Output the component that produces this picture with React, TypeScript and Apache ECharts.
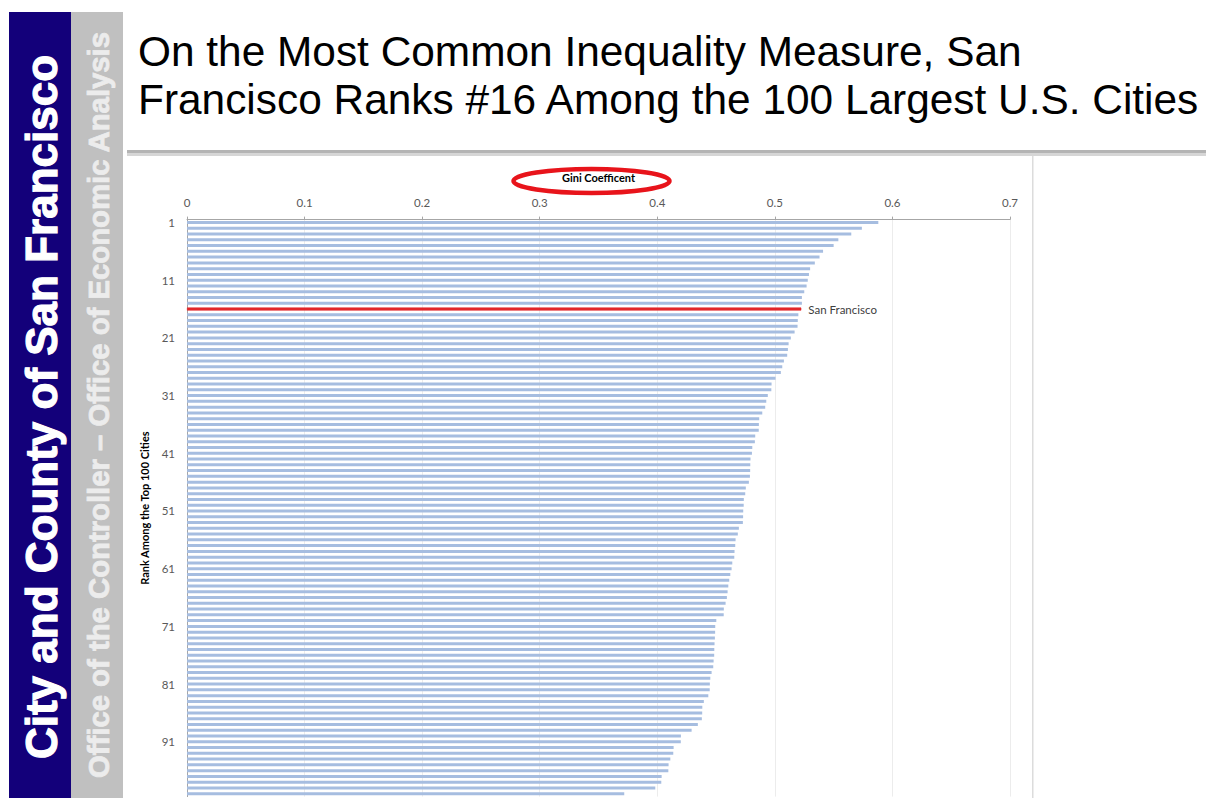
import React, { useEffect, useRef } from "react";
import * as echarts from "echarts";

const ranks: string[] = Array.from({ length: 100 }, (_, i) => String(i + 1));

const giniValues: number[] = [
  0.588, 0.574, 0.565, 0.554, 0.55, 0.541, 0.538, 0.534, 0.53, 0.529,
  0.528, 0.527, 0.525, 0.523, 0.523, 0.5225, 0.52, 0.5195, 0.5193, 0.5168,
  0.5136, 0.5117, 0.5111, 0.5105, 0.5077, 0.5063, 0.5051, 0.5006, 0.4972, 0.497,
  0.494, 0.4927, 0.4918, 0.4893, 0.4867, 0.4864, 0.4863, 0.4833, 0.483, 0.4808,
  0.4805, 0.4793, 0.4791, 0.479, 0.4788, 0.4779, 0.4753, 0.4748, 0.4736, 0.4735,
  0.4731, 0.473, 0.4728, 0.4694, 0.4685, 0.4666, 0.4663, 0.4657, 0.4655, 0.4638,
  0.4632, 0.4621, 0.4612, 0.4604, 0.4598, 0.4592, 0.4581, 0.4566, 0.4565, 0.4502,
  0.4493, 0.4492, 0.449, 0.4487, 0.4485, 0.4484, 0.4479, 0.4476, 0.4462, 0.4451,
  0.4447, 0.4446, 0.4434, 0.4396, 0.4383, 0.4382, 0.4379, 0.4345, 0.4292, 0.4201,
  0.42, 0.4139, 0.4136, 0.4111, 0.4096, 0.4094, 0.4037, 0.4034, 0.3983, 0.3719,
];

const sfRank = 16;
const sfLabel = "San Francisco";
const titleLines: string[] = [
  "On the Most Common Inequality Measure, San",
  "Francisco Ranks #16 Among the 100 Largest U.S. Cities",
];
const sideMain = "City and County of San Francisco";
const sideSub = "Office of the Controller \u2013 Office of Economic Analysis";
const xAxisName = "Gini Coefficent";
const yAxisName = "Rank Among the Top 100 Cities";

export default function App() {
  const ref = useRef<HTMLDivElement>(null);
  useEffect(() => {
    if (!ref.current) return;
    const chart = echarts.init(ref.current, undefined, { renderer: "svg" });
    const seriesData = giniValues.map((v, i) =>
      i + 1 === sfRank
        ? {
            value: v,
            itemStyle: { color: "#e3262a", borderColor: "#e3262a", borderWidth: 0.6 },
            label: {
              show: true,
              position: "right",
              distance: 7,
              formatter: sfLabel,
              fontSize: 11.5,
              fontFamily: "Lato",
              color: "#404040",
            },
          }
        : v
    );
    chart.setOption({
      animation: false,
      backgroundColor: "#ffffff",
      grid: { left: 187, right: 196, top: 219.6, bottom: 1.4, containLabel: false },
      xAxis: {
        type: "value",
        position: "top",
        min: 0,
        max: 0.7,
        interval: 0.1,
        name: xAxisName,
        nameLocation: "middle",
        nameGap: 37,
        nameTextStyle: { fontSize: 11, fontWeight: "bold", fontFamily: "Lato", color: "#000" },
        axisLine: { show: true, lineStyle: { color: "#a6a6a6", width: 1 } },
        axisTick: { show: true, length: 3, lineStyle: { color: "#a6a6a6" } },
        axisLabel: {
          fontSize: 11.5,
          fontFamily: "Lato",
          color: "#595959",
          margin: 11,
          formatter: (v: number) => String(Math.round(v * 10) / 10),
        },
        splitLine: { show: true, lineStyle: { color: "#ececec", width: 1 } },
      },
      yAxis: {
        type: "category",
        data: ranks,
        inverse: true,
        name: yAxisName,
        nameLocation: "middle",
        nameGap: 37,
        nameRotate: 90,
        nameTextStyle: { fontSize: 11, fontWeight: "bold", fontFamily: "Lato", color: "#000" },
        axisLine: { show: true, lineStyle: { color: "#a6a6a6" } },
        axisTick: { show: false },
        axisLabel: {
          interval: 9,
          fontSize: 11.5,
          fontFamily: "Lato",
          color: "#595959",
          margin: 12,
        },
        splitLine: { show: false },
      },
      series: [
        {
          type: "bar",
          data: seriesData,
          barWidth: 3,
          itemStyle: { color: "#a6bde0" },
          label: { show: false },
        },
      ],
      graphic: [
        { type: "rect", shape: { x: 9, y: 12, width: 62, height: 786 }, style: { fill: "#13007a" } },
        { type: "rect", shape: { x: 71, y: 12, width: 52, height: 786 }, style: { fill: "#c0c0c0" } },
        {
          type: "text",
          x: 41,
          y: 407,
          rotation: Math.PI / 2,
          style: {
            text: sideMain,
            fill: "#ffffff",
            stroke: "#ffffff",
            lineWidth: 1.2,
            fontSize: 44,
            fontWeight: "bold",
            fontFamily: "Liberation Sans",
            align: "center",
            verticalAlign: "middle",
          },
        },
        {
          type: "text",
          x: 98,
          y: 405,
          rotation: Math.PI / 2,
          style: {
            text: sideSub,
            fill: "#ececec",
            stroke: "#ececec",
            lineWidth: 0.8,
            fontSize: 29.3,
            fontWeight: "bold",
            fontFamily: "Liberation Sans",
            align: "center",
            verticalAlign: "middle",
          },
        },
        {
          type: "text",
          x: 138,
          y: 51,
          style: {
            text: titleLines[0],
            fill: "#000000",
            fontSize: 42.4,
            fontFamily: "Liberation Sans",
            align: "left",
            verticalAlign: "middle",
          },
        },
        {
          type: "text",
          x: 138,
          y: 99,
          style: {
            text: titleLines[1],
            fill: "#000000",
            fontSize: 42.4,
            fontFamily: "Liberation Sans",
            align: "left",
            verticalAlign: "middle",
          },
        },
        { type: "rect", shape: { x: 127, y: 150, width: 1079, height: 3 }, style: { fill: "#b4b4b4" } },
        { type: "rect", shape: { x: 127, y: 153, width: 1079, height: 3 }, style: { fill: "#d6d6d6" } },
        { type: "rect", shape: { x: 1032, y: 156, width: 1.5, height: 642 }, style: { fill: "#dcdcdc" } },
        {
          type: "ellipse",
          shape: { cx: 591.5, cy: 181, rx: 78, ry: 12 },
          style: { fill: "none", stroke: "#e8141b", lineWidth: 4.5 },
          z: 10,
        },
      ],
    });
    return () => chart.dispose();
  }, []);
  return (
    <div
      ref={ref}
      style={{ position: "fixed", left: 0, top: 0, width: 1206, height: 798, background: "#fff" }}
    />
  );
}
